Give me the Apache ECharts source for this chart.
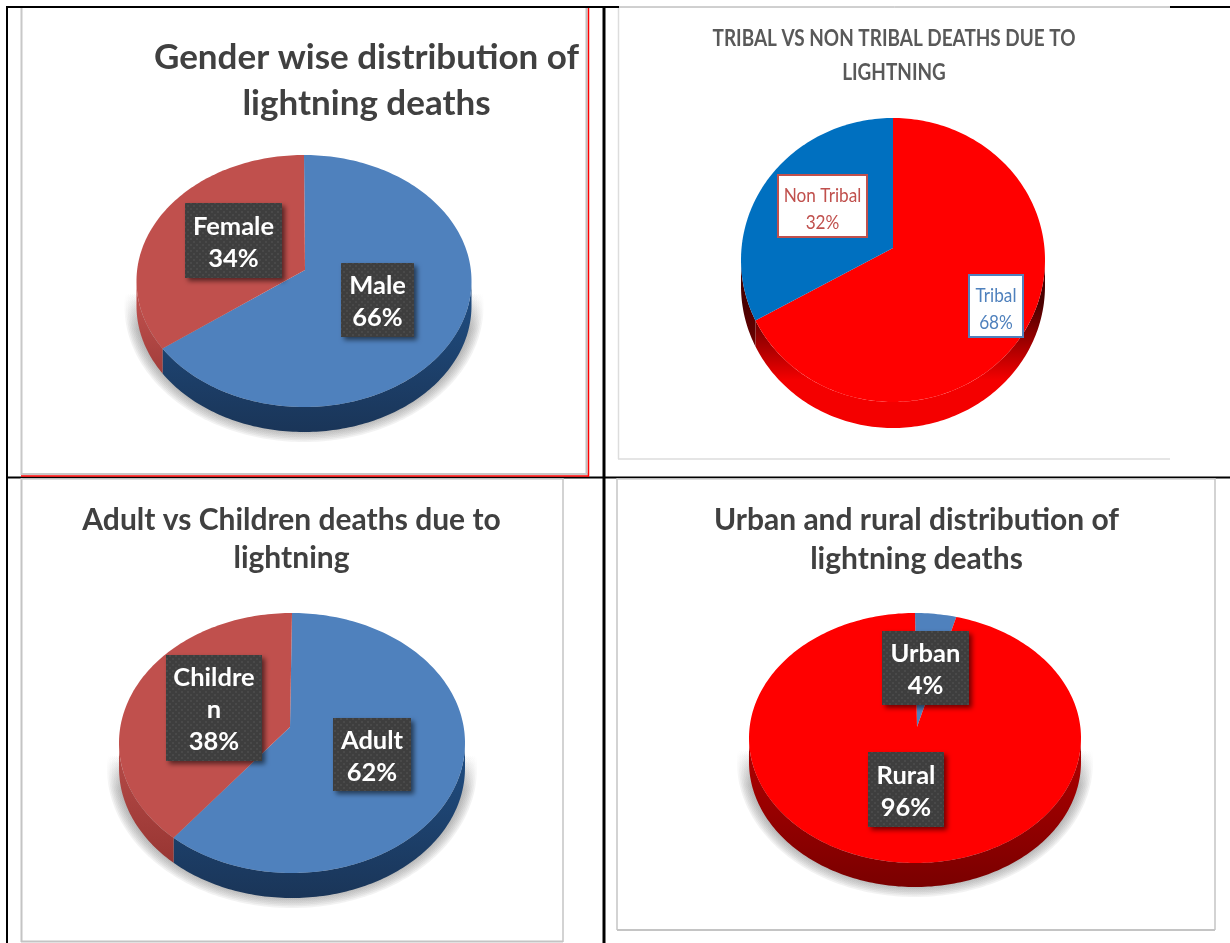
<!DOCTYPE html>
<html>
<head>
<meta charset="utf-8">
<style>html,body{margin:0;padding:0;background:#fff}#c{width:1230px;height:943px}</style>
<script src="https://cdn.jsdelivr.net/npm/echarts@6/dist/echarts.min.js"></script>
</head>
<body>
<div id="c"></div>
<script>
// ---- data ----
const genderCategories = ['Male', 'Female'];
const genderValues = [66, 34];
const tribalCategories = ['Tribal', 'Non Tribal'];
const tribalValues = [68, 32];
const ageCategories = ['Adult', 'Children'];
const ageValues = [62, 38];
const areaCategories = ['Urban', 'Rural'];
const areaValues = [4, 96];
const genderTitle = 'Gender wise distribution of\nlightning deaths';
const tribalTitle = 'TRIBAL VS NON TRIBAL DEATHS DUE TO\nLIGHTNING';
const ageTitle = 'Adult vs Children deaths due to\nlightning';
const areaTitle = 'Urban and rural distribution of\nlightning deaths';

// ---- presentation ----
const FONT = 'Lato, Carlito, "Open Sans", sans-serif';
const dark = document.createElement('canvas');
dark.width = dark.height = 6;
(function () {
  const g = dark.getContext('2d');
  g.fillStyle = '#3e3e3e'; g.fillRect(0, 0, 6, 6);
  g.fillStyle = '#494949'; g.fillRect(1, 1, 2, 2); g.fillRect(4, 4, 2, 2);
})();

const BLUE = '#4f81bd', BRICK = '#c0504d', RED = '#ff0000';
const pies = [
  { names: genderCategories, values: genderValues, cx: 304, cy: 281, rx: 167.5, ry: 126, depth: 25, ax: 305, ay: 270,
    colors: [BLUE, BRICK], walls: [['#1f4a7c', '#1a3558'], ['#bb4d4a', '#8a2f2d']], wallFrom: 310, wallTo: 432, shadow: true, light: false,
    boxes: [[341, 414, 263, 337], [185, 282, 203, 278]], text: ['Male', 'Female'] },
  { names: tribalCategories, values: tribalValues, cx: 893, cy: 260, rx: 152, ry: 142, depth: 26, ax: 893, ay: 248,
    colors: [RED, '#0070c0'], walls: [['#4a0000', '#f40000'], ['#4a0000', '#8a0000']], wallFrom: 305, wallTo: 380, shadow: false, light: true,
    boxes: [[969, 1023, 275, 337], [778, 867, 175, 237]], text: ['Tribal', 'Non Tribal'],
    boxColors: [BLUE, BRICK] },
  { names: ageCategories, values: ageValues, cx: 292, cy: 743, rx: 173, ry: 130, depth: 25, ax: 290, ay: 727,
    colors: [BLUE, BRICK], walls: [['#1f4a7c', '#1a3558'], ['#b04744', '#8f2f2c']], wallFrom: 770, wallTo: 898, shadow: true, light: false,
    boxes: [[333, 411, 718, 791], [166, 262, 655, 761]], text: ['Adult', 'Childre\nn'] },
  { names: areaCategories, values: areaValues, cx: 915, cy: 738, rx: 166, ry: 125, depth: 24, ax: 917, ay: 727,
    colors: [BLUE, RED], walls: [['#2a4a70', '#2a4a70'], ['#a80000', '#7a0000']], wallFrom: 765, wallTo: 887, shadow: true, light: false,
    boxes: [[882, 969, 631, 705], [868, 944, 752, 827]], text: ['Urban', 'Rural'] }
];

function arc(p, a0, a1, dy) {
  const pts = [], n = Math.max(2, Math.ceil((a1 - a0) / 0.02));
  for (let i = 0; i <= n; i++) {
    const a = a0 + (a1 - a0) * i / n;
    pts.push([p.cx + p.rx * Math.sin(a), p.cy - p.ry * Math.cos(a) + (dy || 0)]);
  }
  return pts;
}

function renderSlice(p, params, api) {
  const i = params.dataIndex;
  const total = p.values.reduce((s, v) => s + v, 0);
  const before = p.values.slice(0, i).reduce((s, v) => s + v, 0);
  const value = api.value(0);
  const a0 = before / total * Math.PI * 2, a1 = (before + value) / total * Math.PI * 2;
  const kids = [];

  if (i === 0 && p.shadow) {
    for (let k = 0; k < 8; k++) {
      const grow = 12 - k * 1.6;
      const q = { cx: p.cx, cy: p.cy + p.depth, rx: p.rx + grow, ry: p.ry + grow - 2 };
      kids.push({
        type: 'polygon', z2: 0, silent: true,
        shape: { points: arc(q, 0, Math.PI * 2) },
        style: {
          fill: { type: 'linear', x: 0, y: p.cy + 12, x2: 0, y2: p.cy + 48, global: true,
            colorStops: [{ offset: 0, color: 'rgba(120,120,120,0)' }, { offset: 1, color: 'rgba(120,120,120,0.095)' }] }
        }
      });
    }
  }

  // visible outer wall: the part of the slice on the front half
  const w0 = Math.max(a0, Math.PI / 2), w1 = Math.min(a1, Math.PI * 1.5);
  if (w1 > w0) {
    const top = arc(p, w0, w1), bottom = arc(p, w0, w1, p.depth).reverse();
    kids.push({
      type: 'polygon', z2: 1, shape: { points: top.concat(bottom) },
      style: {
        fill: { type: 'linear', x: 0, y: p.wallFrom, x2: 0, y2: p.wallTo, global: true,
          colorStops: [{ offset: 0, color: p.walls[i][0] }, { offset: 1, color: p.walls[i][1] }] }
      }
    });
  }

  // top surface
  kids.push({
    type: 'polygon', z2: 2, shape: { points: [[p.ax, p.ay]].concat(arc(p, a0, a1)) },
    style: { fill: p.colors[i] }
  });

  // data label
  const b = p.boxes[i];
  const label = p.text[i] + '\n' + value + '%';
  const mx = (b[0] + b[1]) / 2, my = (b[2] + b[3]) / 2;
  if (p.light) {
    kids.push({
      type: 'rect', z2: 5, shape: { x: b[0], y: b[2], width: b[1] - b[0], height: b[3] - b[2] },
      style: { fill: '#fff', stroke: p.boxColors[i], lineWidth: 2 }
    });
    kids.push({
      type: 'text', z2: 6, x: mx, y: my + 3, scaleX: 0.86,
      style: { text: label, fill: p.boxColors[i], font: '20px ' + FONT, align: 'center', verticalAlign: 'middle', lineHeight: 27 }
    });
  } else {
    kids.push({
      type: 'rect', z2: 5, shape: { x: b[0], y: b[2], width: b[1] - b[0], height: b[3] - b[2] },
      style: { fill: { image: dark, repeat: 'repeat' }, shadowBlur: 5, shadowOffsetX: 3, shadowOffsetY: 3, shadowColor: 'rgba(0,0,0,0.55)' }
    });
    kids.push({
      type: 'text', z2: 6, x: mx, y: my + 2,
      style: { text: label, fill: '#fff', font: 'bold 25.5px ' + FONT, align: 'center', verticalAlign: 'middle', lineHeight: 32 }
    });
  }
  return { type: 'group', children: kids };
}

function line(x1, y1, x2, y2, color, w) {
  return { type: 'line', silent: true, shape: { x1, y1, x2, y2 }, style: { stroke: color, lineWidth: w }, z: -1 };
}

const frames = [
  // table rules
  line(7, 7, 619, 7, '#000', 2), line(1170, 7, 1230, 7, '#000', 2), line(619, 7, 1170, 7, '#a0a0a0', 1),
  line(7, 6, 7, 943, '#000', 2), line(604, 7, 604, 943, '#000', 3), line(7, 477.5, 1230, 477.5, '#000', 2),
  // chart 1 frame
  line(21.5, 8, 21.5, 475, '#c8c8c8', 2), line(586.5, 8, 586.5, 475, '#c0c0c0', 2),
  line(21, 474, 588, 474, '#c8c8c8', 2), line(21, 476, 589, 476, '#ff0000', 1.5), line(588.5, 8, 588.5, 476.5, '#ff0000', 1.5),
  // chart 2 frame
  line(618.5, 8, 618.5, 459, '#dddddd', 1.5), line(618, 459, 1170, 459, '#dddddd', 1.5),
  // chart 3 frame
  line(21.5, 478, 21.5, 942, '#c4c4c4', 2), line(21, 479, 563, 479, '#d0d0d0', 1.5),
  line(563, 478, 563, 942, '#c4c4c4', 1.5), line(21, 941.5, 563, 941.5, '#c4c4c4', 2),
  // chart 4 frame
  line(617, 478, 617, 930, '#c4c4c4', 1.5), line(617, 479, 1215, 479, '#d0d0d0', 1.5),
  line(1215, 478, 1215, 930, '#c4c4c4', 1.5), line(617, 930, 1215, 930, '#c4c4c4', 2),
  // the condensed heading of the second chart
  { type: 'text', x: 894, y: 56, scaleX: 0.823, silent: true,
    style: { text: tribalTitle, fill: '#595959', font: 'bold 23px ' + FONT, align: 'center', verticalAlign: 'middle', lineHeight: 34 } }
];

function title(text, x, y, size, lh, color) {
  return { text, left: x, top: y, textAlign: 'center', padding: 0,
    textStyle: { fontFamily: FONT, fontSize: size, lineHeight: lh, fontWeight: 'bold', color } };
}

const chart = echarts.init(document.getElementById('c'), null, { renderer: 'canvas' });
chart.setOption({
  animation: false,
  backgroundColor: '#fff',
  title: [
    title(genderTitle, 366.5, 35, 35, 46, '#404040'),
    title(ageTitle, 291.5, 501, 30, 38, '#404040'),
    title(areaTitle, 916.5, 501, 30, 39, '#404040')
  ],
  graphic: { elements: frames },
  series: pies.map((p) => ({
    type: 'custom',
    name: p.names.join(' / '),
    coordinateSystem: 'none',
    clip: false,
    silent: true,
    data: p.values.map((v, i) => ({ name: p.names[i], value: [v] })),
    renderItem: (params, api) => renderSlice(p, params, api)
  }))
});
</script>
</body>
</html>
